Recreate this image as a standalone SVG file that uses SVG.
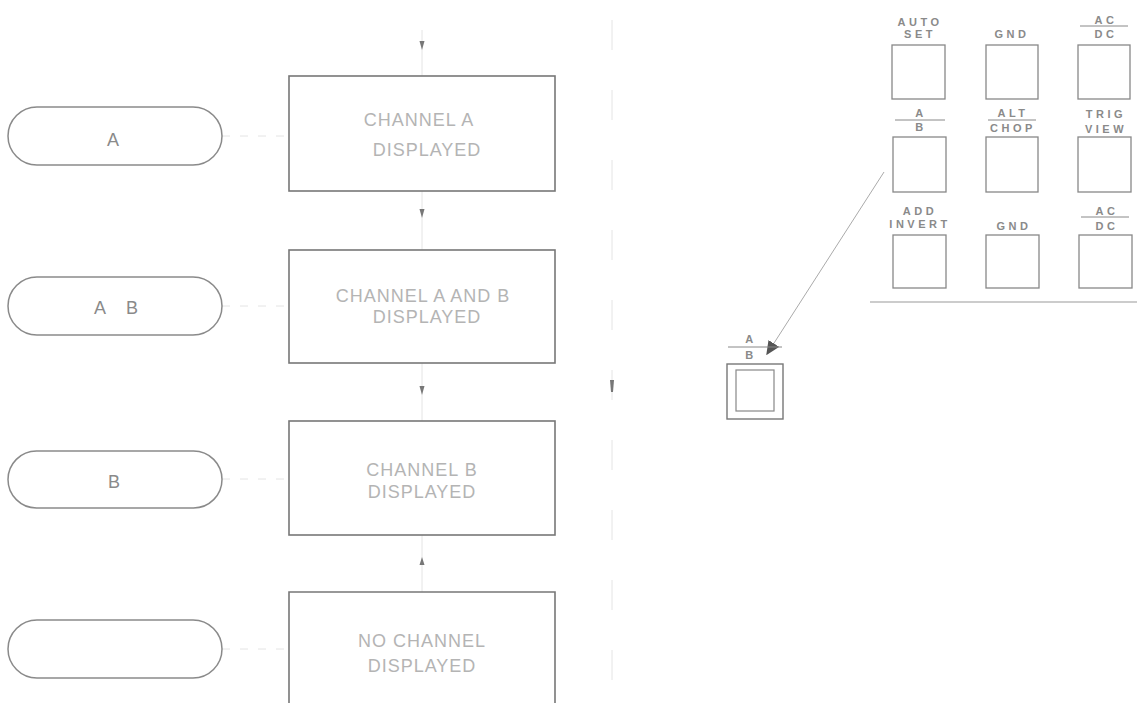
<svg xmlns="http://www.w3.org/2000/svg" width="1137" height="703" viewBox="0 0 1137 703">
<defs>
<style>
.pill{fill:#fff;stroke:#8a8a8a;stroke-width:1.5}
.box{fill:#fff;stroke:#777;stroke-width:1.6}
.btn{fill:#fff;stroke:#888;stroke-width:1.3}
.t{font-family:"Liberation Sans",Arial,sans-serif;fill:#b4b4b4;font-size:18px;letter-spacing:1px;text-anchor:middle}
.pt{font-family:"Liberation Sans",Arial,sans-serif;fill:#8a8a8a;font-size:18px;text-anchor:middle}
.l{font-family:"Liberation Sans",Arial,sans-serif;fill:#8a8a8a;font-size:11px;font-weight:bold;letter-spacing:3.5px;text-anchor:middle}
.bar{stroke:#888;stroke-width:1}
.faint{stroke:#e4e4e4;stroke-width:1;fill:none}
.tick{fill:#777}
</style>
<marker id="ah" viewBox="0 0 10 10" refX="9" refY="5" markerWidth="14" markerHeight="14" markerUnits="userSpaceOnUse" orient="auto">
<path d="M0,0.5 L10,5 L0,9.5 Z" fill="#555"/>
</marker>
</defs>

<g id="connectors">
<line class="faint" x1="222" y1="136" x2="289" y2="136" stroke-dasharray="8 10"/>
<line class="faint" x1="222" y1="306" x2="289" y2="306" stroke-dasharray="8 10"/>
<line class="faint" x1="222" y1="479" x2="289" y2="479" stroke-dasharray="8 10"/>
<line class="faint" x1="222" y1="649" x2="289" y2="649" stroke-dasharray="8 10"/>
<line class="faint" x1="422" y1="30" x2="422" y2="76"/>
<line class="faint" x1="422" y1="191" x2="422" y2="250"/>
<line class="faint" x1="422" y1="363" x2="422" y2="421"/>
<line class="faint" x1="422" y1="535" x2="422" y2="592"/>
<path class="tick" d="M419.5,41 L424.5,41 L422,50 Z"/>
<path class="tick" d="M419.5,209 L424.5,209 L422,218 Z"/>
<path class="tick" d="M419.5,386 L424.5,386 L422,395 Z"/>
<path class="tick" d="M422,557 L424.5,565 L419.5,565 Z"/>
<line class="faint" x1="612" y1="20" x2="612" y2="700" stroke="#efefef" stroke-dasharray="30 40"/>
<path class="tick" d="M610,380 L614,380 L613,392 L611,392 Z"/>
<line x1="884" y1="172" x2="767" y2="354" stroke="#aaa" stroke-width="1" marker-end="url(#ah)"/>
</g>

<g id="pill-a"><rect class="pill" x="8" y="107" width="214" height="58" rx="29"/><text class="pt" x="113" y="146">A</text></g>
<g id="pill-ab"><rect class="pill" x="8" y="277" width="214" height="58" rx="29"/><text class="pt" x="116" y="314" word-spacing="16">A B</text></g>
<g id="pill-b"><rect class="pill" x="8" y="451" width="214" height="57" rx="28.5"/><text class="pt" x="114" y="488">B</text></g>
<g id="pill-none"><rect class="pill" x="8" y="620" width="214" height="58" rx="29"/></g>

<g id="box-a"><rect class="box" x="289" y="76" width="266" height="115"/><text class="t" x="419" y="126">CHANNEL A</text><text class="t" x="427" y="156">DISPLAYED</text></g>
<g id="box-ab"><rect class="box" x="289" y="250" width="266" height="113"/><text class="t" x="423" y="302">CHANNEL A AND B</text><text class="t" x="427" y="323">DISPLAYED</text></g>
<g id="box-b"><rect class="box" x="289" y="421" width="266" height="114"/><text class="t" x="422" y="476">CHANNEL B</text><text class="t" x="422" y="498">DISPLAYED</text></g>
<g id="box-none"><path class="box" d="M289,706 L289,592 L555,592 L555,706"/><text class="t" x="422" y="647">NO CHANNEL</text><text class="t" x="422" y="672">DISPLAYED</text></g>

<g id="panel">
<text class="l" x="920" y="26">AUTO</text><text class="l" x="920" y="38">SET</text>
<text class="l" x="1012" y="38">GND</text>
<text class="l" x="1106" y="24">AC</text><line class="bar" x1="1080" y1="26" x2="1128" y2="26"/><text class="l" x="1106" y="38">DC</text>
<rect class="btn" x="892" y="45" width="53" height="54"/>
<rect class="btn" x="986" y="45" width="52" height="54"/>
<rect class="btn" x="1078" y="45" width="52" height="54"/>

<text class="l" x="921" y="117">A</text><line class="bar" x1="895" y1="120" x2="945" y2="120"/><text class="l" x="921" y="131">B</text>
<text class="l" x="1013" y="117">ALT</text><line class="bar" x1="988" y1="120" x2="1036" y2="120"/><text class="l" x="1013" y="132">CHOP</text>
<text class="l" x="1106" y="118">TRIG</text><text class="l" x="1106" y="133">VIEW</text>
<rect class="btn" x="893" y="137" width="53" height="55"/>
<rect class="btn" x="986" y="137" width="52" height="55"/>
<rect class="btn" x="1078" y="137" width="53" height="55"/>

<text class="l" x="920" y="215">ADD</text><text class="l" x="920" y="228">INVERT</text>
<text class="l" x="1014" y="230">GND</text>
<text class="l" x="1107" y="215">AC</text><line class="bar" x1="1081" y1="217" x2="1129" y2="217"/><text class="l" x="1107" y="230">DC</text>
<rect class="btn" x="893" y="235" width="53" height="53"/>
<rect class="btn" x="986" y="235" width="53" height="53"/>
<rect class="btn" x="1079" y="235" width="53" height="53"/>
<line x1="870" y1="302" x2="1137" y2="302" stroke="#999" stroke-width="1"/>
</g>

<g id="ab-button">
<text class="l" x="751" y="343">A</text><line class="bar" x1="728" y1="347" x2="782" y2="347"/><text class="l" x="751" y="359">B</text>
<rect x="727" y="364" width="56" height="55" fill="#fff" stroke="#777" stroke-width="1.4"/>
<rect x="736" y="370" width="38" height="41" fill="none" stroke="#888" stroke-width="1.2"/>
</g>
</svg>
